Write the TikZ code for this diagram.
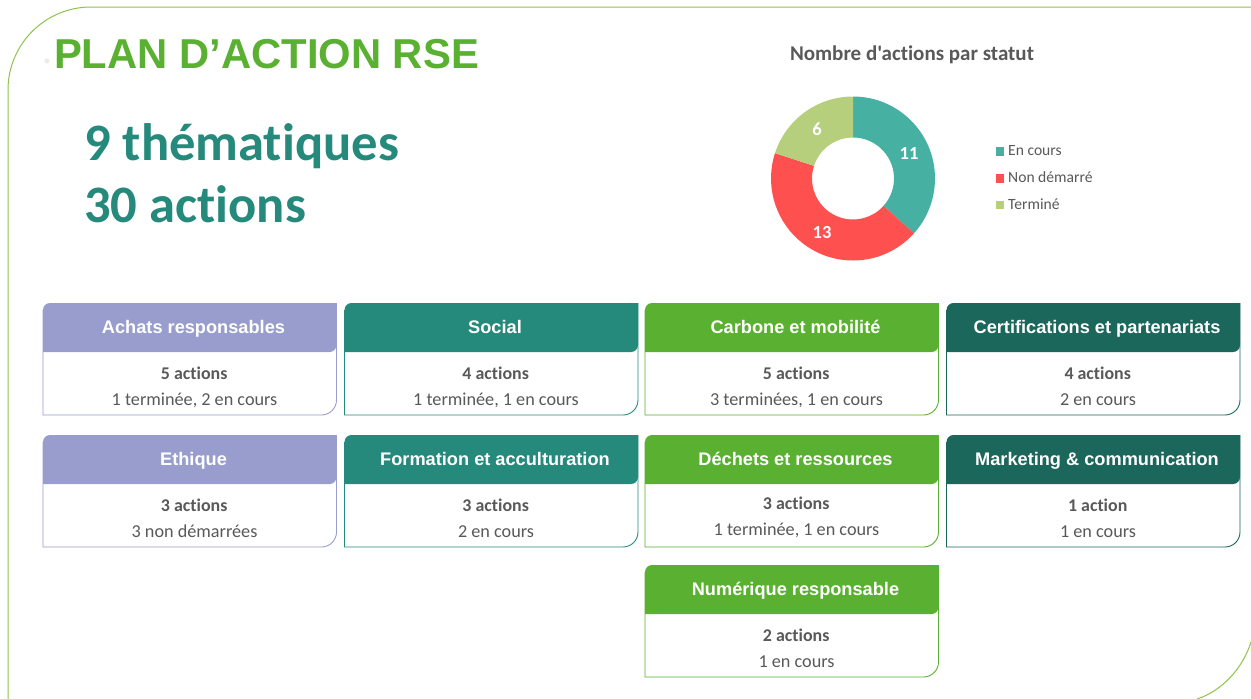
\documentclass[tikz,border=0pt]{standalone}
\usepackage{fontspec}
\newfontfamily\calf{Carlito}[Ligatures=NoCommon]
\newfontfamily\arialf{Liberation Sans}
\definecolor{lav}{HTML}{989DCD}
\definecolor{teal1}{HTML}{25897B}
\definecolor{grn}{HTML}{5AB030}
\definecolor{dteal}{HTML}{1C675C}
\definecolor{frame}{HTML}{8FC34A}
\definecolor{txt}{HTML}{595959}
\definecolor{dteal2}{HTML}{46B1A3}
\definecolor{dred}{HTML}{FF5050}
\definecolor{dgrn}{HTML}{B5CF7C}
\tikzset{
  head/.style={font=\arialf\bfseries\fontsize{18.2}{20}\selectfont,text=white,anchor=base,inner sep=0pt},
  bold/.style={font=\calf\bfseries\fontsize{17.9}{20}\selectfont,text=txt,anchor=base,inner sep=0pt},
  sub/.style={font=\calf\fontsize{18.2}{20}\selectfont,text=txt,anchor=base,inner sep=0pt},
  leg/.style={font=\calf\fontsize{15.6}{18}\selectfont,text=txt,anchor=base west,inner sep=0pt},
  dlab/.style={font=\calf\bfseries\fontsize{18.5}{20}\selectfont,text=white,anchor=base,inner sep=0pt},
  big/.style={font=\calf\bfseries\fontsize{52.6}{54}\selectfont,text=teal1,anchor=base west,inner sep=0pt},
}
% #1 name, #2 left x, #3 top y, #4 colour, #5 title, #6 bold line, #7 sub line, #8 y shift of body
\newcommand{\cardbox}[8]{%
  \draw[#4,line width=0.9pt] (#2,#3+7) -- (#2,#3+112) -- (#2+278.5,#3+112)
     arc[start angle=90,end angle=0,radius=15] -- (#2+293.5,#3);
  \fill[#4] (#2,#3+49) -- (#2,#3+7) arc[start angle=180,end angle=270,radius=7]
     -- (#2+293.5,#3) -- (#2+293.5,#3+42) arc[start angle=0,end angle=90,radius=7] -- cycle;
  \node[head] (#1t) at (#2+150.5,#3+30.5) {#5};
  \node[bold] (#1b) at (#2+151.2,#3+76+#8) {#6};
  \node[sub]  (#1s) at (#2+151.5,#3+102.5+#8) {#7};
}
\newcommand{\donutseg}[3]{%
  \fill[#1] ([shift={(#2:82)}]c) arc[start angle=#2,end angle=#3,radius=82]
    -- ([shift={(#3:41)}]c) arc[start angle=#3,end angle=#2,radius=41] -- cycle;
}
\begin{document}
\begin{tikzpicture}[x=1pt,y=-1pt]
\useasboundingbox (0,0) rectangle (1251,699);
\fill[white] (0,0) rectangle (1251,699);
% frame
\draw[frame,line width=1pt] (8,699) -- (8,90) arc[start angle=180,end angle=270,radius=83] -- (1251,7);
\draw[frame,line width=1pt] (1197,699) .. controls (1222,691) and (1243,668) .. (1251,642);
% title
\fill[black!8] (47,61) circle (2.5);
\node[font=\arialf\bfseries\fontsize{41.8}{46}\selectfont,text=grn,anchor=base west,inner sep=0pt] (title) at (53.8,68) {PLAN D’ACTION RSE};
\node[big] (them) at (84,160) {9 thématiques};
\node[big] (acts) at (84,222.8) {30 actions};
% chart
\node[font=\calf\bfseries\fontsize{21}{22}\selectfont,text=txt,anchor=base,inner sep=0pt] (ctitle) at (912,60.5) {Nombre d'actions par statut};
\coordinate (c) at (853,178.5);
\donutseg{dteal2}{-90}{42}
\donutseg{dred}{42}{198}
\donutseg{dgrn}{198}{270}
\node[dlab] (n11) at (909,159.3) {11};
\node[dlab] (n13) at (822,238) {13};
\node[dlab] (n6) at (817,135) {6};
\fill[dteal2] (995.7,146.7) rectangle (1004.3,155.5);
\fill[dred] (995.7,174) rectangle (1004.3,182.7);
\fill[dgrn] (995.7,200.7) rectangle (1004.3,209.3);
\node[leg] (l1) at (1008,155.6) {En cours};
\node[leg] (l2) at (1008,182.7) {Non démarré};
\node[leg] (l3) at (1008,209.3) {Terminé};
% cards
\cardbox{a}{43}{303}{lav}{Achats responsables}{5 actions}{1 terminée, 2 en cours}{0}
\cardbox{b}{344.5}{303}{teal1}{Social}{4 actions}{1 terminée, 1 en cours}{0}
\cardbox{d}{645}{303}{grn}{Carbone et mobilité}{5 actions}{3 terminées, 1 en cours}{0}
\cardbox{e}{946.5}{303}{dteal}{Certifications et partenariats}{4 actions}{2 en cours}{0}
\cardbox{f}{43}{435}{lav}{Ethique}{3 actions}{3 non démarrées}{0}
\cardbox{g}{344.5}{435}{teal1}{Formation et acculturation}{3 actions}{2 en cours}{0}
\cardbox{h}{645}{435}{grn}{Déchets et ressources}{3 actions}{1 terminée, 1 en cours}{-2}
\cardbox{i}{946.5}{435}{dteal}{Marketing \& communication}{1 action}{1 en cours}{0}
\cardbox{j}{645}{565}{grn}{Numérique responsable}{2 actions}{1 en cours}{0}
\end{tikzpicture}
\end{document}
